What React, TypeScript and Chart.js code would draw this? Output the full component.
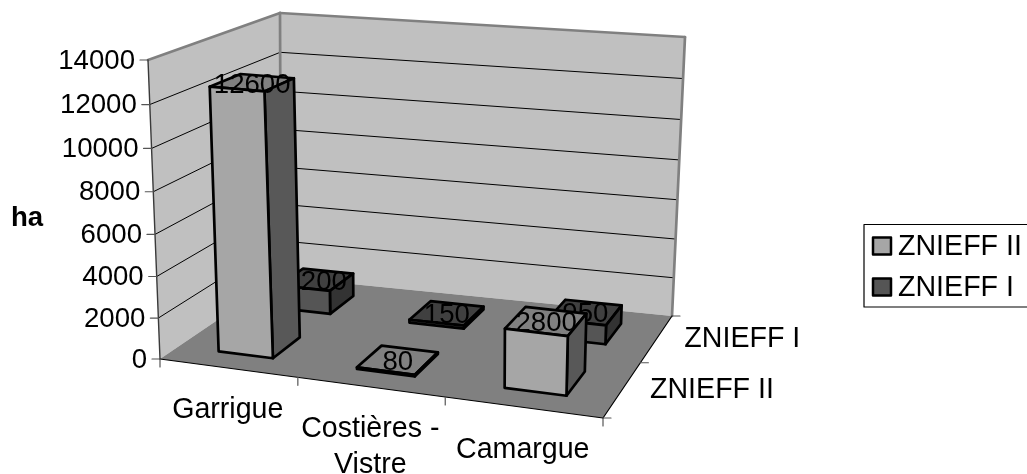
import React, { useEffect, useRef } from "react";
import { Chart, registerables } from "chart.js";

Chart.register(...registerables);

const categories: (string | string[])[] = ["Garrigue", ["Costières -", "Vistre"], "Camargue"];
const seriesNames = ["ZNIEFF II", "ZNIEFF I"];
const znieffII = [12600, 80, 2800];
const znieffI = [1200, 150, 950];
const yTicksMax = 14000;
const yTicksStep = 2000;
const axisTitle = "ha";

const frontShades = ["#a6a6a6", "#555555"];
const sideShades = ["#585858", "#333333"];
const topShades = ["#808080", "#404040"];

const FONT = '"Liberation Sans", Arial, sans-serif';
const FS = 27.6;
const FS_TEXT = 28.6;

type Pt = [number, number];
// Projection frame: unit square to picture quadrilateral
function homography(p: Pt[]) {
  const [[x0, y0], [x1, y1], [x2, y2], [x3, y3]] = p;
  const dx1 = x1 - x2, dx2 = x3 - x2, sx = x0 - x1 + x2 - x3;
  const dy1 = y1 - y2, dy2 = y3 - y2, sy = y0 - y1 + y2 - y3;
  const den = dx1 * dy2 - dx2 * dy1;
  const g = (sx * dy2 - dx2 * sy) / den;
  const h = (dx1 * sy - sx * dy1) / den;
  const a = x1 - x0 + g * x1, b = x3 - x0 + h * x3, c = x0;
  const d = y1 - y0 + g * y1, e = y3 - y0 + h * y3, f = y0;
  return (u: number, v: number): Pt => {
    const w = g * u + h * v + 1;
    return [(a * u + b * v + c) / w, (d * u + e * v + f) / w];
  };
}
// corners order: front-left, front-right, back-right, back-left
const floorH = homography([[160, 359], [603, 418], [672, 316], [281, 277]]);
const roofH = homography([[148, 60], [614, 100], [685, 37], [280, 13]]);
function proj(u0: number, v: number, t: number): Pt {
  const u = u0 + 0.045 * u0 * (1 - u0);
  const a = floorH(u, v), b = roofH(u, v);
  const k = t / (t + (1 - t) * 1.05 || 1);
  return [a[0] + (b[0] - a[0]) * k, a[1] + (b[1] - a[1]) * k];
}
function poly(ctx: CanvasRenderingContext2D, pts: Pt[], fill: string | null, stroke: string | null, lw = 1) {
  ctx.beginPath();
  pts.forEach((p, i) => (i ? ctx.lineTo(p[0], p[1]) : ctx.moveTo(p[0], p[1])));
  ctx.closePath();
  if (fill) { ctx.fillStyle = fill; ctx.fill(); }
  if (stroke) { ctx.strokeStyle = stroke; ctx.lineWidth = lw; ctx.lineJoin = "round"; ctx.stroke(); }
}
function line(ctx: CanvasRenderingContext2D, a: Pt, b: Pt, c: string, lw: number) {
  ctx.beginPath(); ctx.moveTo(a[0], a[1]); ctx.lineTo(b[0], b[1]);
  ctx.strokeStyle = c; ctx.lineWidth = lw; ctx.stroke();
}

const plugin3d = {
  id: "plot3d",
  beforeDatasetsDraw(chart: any) {
    const { ctx, scales } = chart;
    const { x, y, depth } = scales;
    const frac = (v: number) => (y.bottom - y.getPixelForValue(v)) / (y.bottom - y.top);
    const uOf = (i: number) => (x.getPixelForValue(i) - x.left) / x.width;
    const vOf = (s: number) => (depth.getPixelForValue(s) - depth.left) / depth.width;
    const nCat = chart.data.labels.length;
    const nSer = chart.data.datasets.length;
    const halfU = 0.2 / nCat, halfV = 0.225 / nSer;
    ctx.save();
    // walls and floor
    poly(ctx, [proj(0, 0, 0), proj(0, 1, 0), proj(0, 1, 1), proj(0, 0, 1)], "#c0c0c0", null);
    poly(ctx, [proj(0, 1, 0), proj(1, 1, 0), proj(1, 1, 1), proj(0, 1, 1)], "#c0c0c0", null);
    poly(ctx, [proj(0, 0, 0), proj(1, 0, 0), proj(1, 1, 0), proj(0, 1, 0)], "#808080", null);
    // gridlines
    y.ticks.forEach((tk: any) => {
      const t = frac(tk.value);
      if (t <= 0 || t >= 1) return;
      line(ctx, proj(0, 0, t), proj(0, 1, t), "#000", 1);
      line(ctx, proj(0, 1, t), proj(1, 1, t), "#000", 1);
    });
    // wall edges
    ctx.lineCap = "round";
    line(ctx, proj(0, 0, 1), proj(0, 1, 1), "#808080", 2.7);
    line(ctx, proj(0, 1, 1), proj(1, 1, 1), "#808080", 2.7);
    line(ctx, proj(1, 1, 1), proj(1, 1, 0), "#808080", 2.7);
    line(ctx, proj(0, 1, 1), proj(0, 1, 0), "#808080", 2.7);
    // axes
    line(ctx, proj(0, 0, 1), proj(0, 0, 0), "#3a3a3a", 1.4);
    line(ctx, proj(0, 0, 0), proj(1, 0, 0), "#000", 1.2);
    line(ctx, proj(1, 0, 0), proj(1, 1, 0), "#000", 1.2);
    // y ticks and labels
    ctx.font = `${FS}px ${FONT}`;
    ctx.fillStyle = "#000";
    ctx.textBaseline = "middle";
    ctx.textAlign = "right";
    y.ticks.forEach((tk: any) => {
      const p = proj(0, 0, frac(tk.value));
      line(ctx, p, [p[0] - 8, p[1]], "#555", 1.2);
      ctx.fillStyle = "#000";
      ctx.fillText(String(tk.value), p[0] - 13, p[1] + 1);
    });
    // x ticks and labels
    for (let i = 0; i <= nCat; i++) {
      const p = proj(i / nCat, 0, 0);
      line(ctx, p, [p[0], p[1] + 8], "#555", 1.2);
    }
    ctx.textAlign = "center";
    ctx.fillStyle = "#000";
    ctx.font = `${FS_TEXT}px ${FONT}`;
    chart.data.labels.forEach((lab: string | string[], i: number) => {
      const p = proj(uOf(i), 0, 0);
      const ls = Array.isArray(lab) ? lab : [lab];
      ls.forEach((s, k) => ctx.fillText(s, p[0], p[1] + 42.5 + k * 36));
    });
    // depth ticks and labels
    for (let s = 0; s <= nSer; s++) {
      const p = proj(1, s / nSer, 0);
      line(ctx, p, [p[0] + 8, p[1]], "#555", 1.2);
    }
    ctx.textAlign = "left";
    ctx.fillStyle = "#000";
    seriesNames.forEach((nm, s) => {
      const p = proj(1, vOf(s), 0);
      ctx.fillText(nm, p[0] + 27.5, p[1] + 0.5);
    });
    // axis title
    ctx.font = `bold ${FS}px ${FONT}`;
    ctx.fillText(y.options.title.text, 11, 218);
    // bars, back series first, each followed by its labels
    for (let s = nSer - 1; s >= 0; s--) {
      const ds = chart.data.datasets[s];
      const v0 = vOf(s) - halfV, v1 = vOf(s) + halfV;
      ds.data.forEach((val: number, i: number) => {
        const u0 = uOf(i) - halfU, u1 = uOf(i) + halfU, t = frac(val);
        poly(ctx, [proj(u0, v0, t), proj(u1, v0, t), proj(u1, v1, t), proj(u0, v1, t)], topShades[s], "#000", 2.7);
        poly(ctx, [proj(u1, v0, 0), proj(u1, v1, 0), proj(u1, v1, t), proj(u1, v0, t)], sideShades[s], "#000", 2.7);
        poly(ctx, [proj(u0, v0, 0), proj(u1, v0, 0), proj(u1, v0, t), proj(u0, v0, t)], frontShades[s], "#000", 2.7);
      });
      ctx.font = `${FS}px ${FONT}`;
      ctx.textAlign = "center";
      ctx.fillStyle = "#000";
      ds.data.forEach((val: number, i: number) => {
        const c = proj(uOf(i), vOf(s), frac(val));
        ctx.fillText(String(val), c[0], c[1] + 2.5);
      });
    }
    // legend
    poly(ctx, [[864, 224.5], [1032, 224.5], [1032, 307], [864, 307]], null, "#000", 1.2);
    ctx.textAlign = "left";
    chart.data.datasets.forEach((ds: any, s: number) => {
      const cy = 246 + s * 41;
      poly(ctx, [[873, cy - 8.5], [891, cy - 8.5], [891, cy + 8.5], [873, cy + 8.5]], ds.backgroundColor, "#000", 2.5);
      ctx.fillStyle = "#000";
      ctx.font = `${FS_TEXT}px ${FONT}`;
      ctx.fillText(ds.label, 898, cy + 1);
    });
    ctx.restore();
    return false;
  },
};

export default function App() {
  const ref = useRef<HTMLCanvasElement>(null);
  useEffect(() => {
    const chart = new Chart(ref.current!, {
      type: "bar",
      data: {
        labels: categories as any,
        datasets: [
          { label: seriesNames[0], data: znieffII, backgroundColor: frontShades[0] },
          { label: seriesNames[1], data: znieffI, backgroundColor: frontShades[1] },
        ],
      },
      options: {
        responsive: false,
        animation: false,
        events: [],
        plugins: { legend: { display: false }, tooltip: { enabled: false }, title: { display: false } },
        scales: {
          x: { type: "category", offset: true, display: false },
          depth: { type: "category", axis: "x", labels: seriesNames, offset: true, display: false },
          y: {
            type: "linear",
            min: 0,
            max: yTicksMax,
            ticks: { stepSize: yTicksStep },
            title: { display: false, text: axisTitle },
            display: false,
          },
        },
      },
      plugins: [plugin3d],
    } as any);
    return () => chart.destroy();
  }, []);
  return (
    <div style={{ position: "absolute", left: 0, top: 0, width: 1027, height: 474, background: "#fff" }}>
      <canvas ref={ref} width={1027} height={474} style={{ display: "block" }} />
    </div>
  );
}
